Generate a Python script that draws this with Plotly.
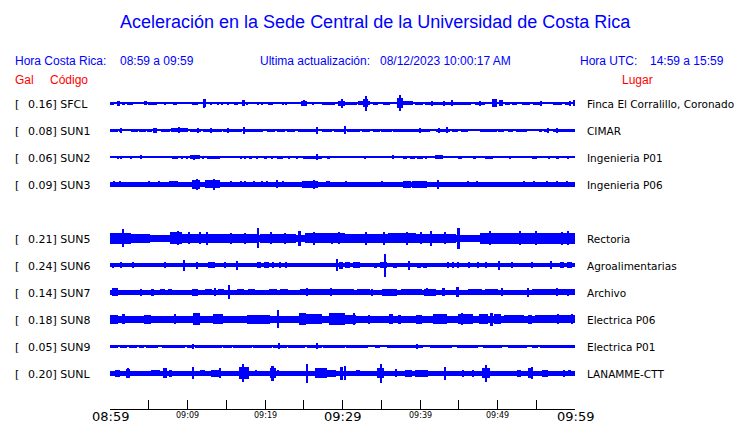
import plotly.graph_objects as go

# ---------------- data ----------------
CODES = ["SFCL", "SUN1", "SUN2", "SUN3", "SUN5", "SUN6", "SUN7", "SUN8", "SUN9", "SUNL"]
GAL = [0.16, 0.08, 0.06, 0.09, 0.21, 0.24, 0.14, 0.18, 0.05, 0.20]
PLACES = ["Finca El Corralillo, Coronado", "CIMAR", "Ingenieria P01", "Ingenieria P06",
          "Rectoria", "Agroalimentarias", "Archivo", "Electrica P06", "Electrica P01", "LANAMME-CTT"]
SLOTS = [0, 1, 2, 3, 5, 6, 7, 8, 9, 10]          # row 4 (SUN4) is empty
BASE_HALF = [0.6, 0.6, 0.5, 2.2, 3.8, 2.0, 2.5, 3.3, 1.0, 2.2]   # background trace half-amplitude

# bursts: (start minute, end minute, half amplitude)
SFCL_EV = [(0.0, 0.5, 1.7), (0.9, 1.3, 2.3), (1.5, 1.9, 1.7), (2.2, 3.0, 1.5), (4.4, 4.8, 2.0),
           (4.9, 6.1, 1.7), (7.0, 7.15, 1.2), (8.1, 8.6, 1.7), (10.6, 11.4, 1.7), (12.0, 12.4, 4.0),
           (12.1, 12.25, 4.5), (12.9, 13.2, 1.5), (13.9, 14.05, 1.3), (14.4, 14.55, 1.3),
           (15.2, 15.35, 1.3), (16.0, 16.5, 1.5), (17.0, 17.4, 3.0), (17.5, 17.8, 1.5),
           (19.0, 19.15, 1.2), (19.6, 19.75, 1.2), (20.4, 21.0, 1.5), (22.2, 22.35, 1.2),
           (22.7, 22.85, 1.2), (24.6, 25.4, 2.3), (25.0, 25.15, 3.0), (26.1, 26.25, 1.2),
           (27.4, 29.0, 1.5), (29.4, 30.3, 2.3), (29.9, 30.05, 4.5), (30.3, 31.9, 1.5),
           (32.0, 33.5, 2.0), (32.6, 33.3, 4.0), (33.0, 33.2, 7.5), (33.9, 34.6, 1.2),
           (35.2, 36.1, 1.5), (37.0, 37.8, 5.0), (37.35, 37.5, 8.0), (37.8, 39.1, 2.0),
           (39.4, 40.4, 1.5), (40.6, 44.1, 1.5), (41.5, 41.65, 2.5), (43.0, 43.15, 2.5),
           (44.1, 44.25, 3.0), (44.3, 46.6, 1.3), (47.1, 48.4, 1.5), (47.7, 47.85, 2.5),
           (49.3, 49.9, 4.0), (50.2, 50.7, 3.0), (51.0, 51.6, 1.2), (51.9, 52.5, 1.2),
           (53.2, 54.2, 1.5), (54.6, 55.5, 1.5), (55.6, 55.75, 2.5), (57.2, 58.3, 1.5),
           (58.7, 59.4, 1.5), (59.3, 59.45, 2.5), (59.7, 60.0, 3.0)]

SUN1_EV = [(0.0, 1.0, 1.8), (1.2, 1.6, 1.3), (1.3, 1.45, 2.5), (2.7, 3.6, 1.5), (3.8, 4.6, 1.5),
           (4.8, 5.4, 1.5), (5.5, 6.1, 2.5), (6.6, 7.8, 1.5), (7.9, 10.1, 2.0), (8.8, 8.95, 3.0),
           (10.3, 11.8, 1.8), (11.3, 11.45, 2.5), (12.0, 13.0, 1.8), (13.0, 13.15, 2.5),
           (13.2, 14.5, 1.8), (14.6, 17.0, 1.5), (15.2, 15.35, 2.5), (17.1, 19.0, 1.8),
           (17.2, 17.35, 3.5), (19.0, 19.8, 1.3), (20.3, 21.3, 1.3), (21.5, 22.6, 1.3),
           (22.9, 23.9, 1.3), (24.3, 25.2, 1.3), (25.2, 26.9, 1.8), (26.6, 26.75, 3.5),
           (27.4, 28.6, 1.3), (28.9, 30.2, 1.3), (30.3, 30.45, 4.0), (30.6, 32.3, 1.5),
           (32.5, 33.6, 1.3), (33.9, 34.8, 1.3), (35.0, 36.4, 1.3), (36.5, 41.3, 1.8),
           (39.9, 40.05, 2.5), (42.0, 43.9, 1.8), (42.4, 42.55, 2.5), (43.4, 43.55, 3.0),
           (44.1, 44.9, 1.3), (45.3, 46.2, 1.3), (47.7, 49.9, 1.8), (50.1, 50.9, 1.3),
           (51.4, 52.0, 1.3), (52.4, 53.8, 1.3), (55.3, 55.7, 1.3), (56.0, 56.4, 1.3),
           (56.5, 56.65, 2.5), (57.2, 59.7, 1.8), (57.6, 57.75, 2.5), (59.8, 60.0, 1.5)]

SUN2_EV = [(1.0, 1.15, 1.5), (1.4, 1.55, 1.5), (2.6, 2.75, 1.2), (3.9, 4.05, 2.0), (8.0, 8.8, 1.8),
           (9.2, 9.4, 1.2), (9.9, 10.05, 1.2), (10.3, 11.6, 2.0), (10.8, 10.95, 2.8),
           (11.9, 12.1, 1.3), (12.5, 14.2, 1.8), (16.8, 17.0, 1.5), (17.4, 17.6, 1.5),
           (17.9, 18.3, 1.5), (18.9, 19.05, 1.3), (19.9, 20.2, 1.3), (20.8, 21.0, 1.3),
           (21.5, 22.3, 1.5), (23.0, 23.15, 1.2), (24.0, 24.3, 1.3), (24.9, 27.4, 1.8),
           (26.6, 26.75, 3.0), (28.0, 28.4, 1.8), (32.9, 33.05, 1.2), (36.5, 36.65, 2.0),
           (37.8, 38.3, 1.5), (38.7, 39.3, 1.5), (39.6, 40.4, 1.5), (40.6, 40.9, 1.5),
           (41.9, 43.0, 2.0), (44.9, 45.4, 1.8), (46.8, 47.2, 1.2), (48.4, 49.4, 1.8),
           (51.6, 51.75, 1.2), (54.5, 55.1, 1.5), (56.6, 56.75, 1.2), (57.5, 57.9, 1.2),
           (59.0, 59.15, 1.2)]

SUN3_EV = [(0.5, 0.65, 3.0), (1.2, 1.35, 3.0), (4.0, 4.15, 2.8), (5.0, 5.15, 3.0), (6.2, 6.35, 3.0),
           (7.6, 8.8, 3.0), (10.6, 11.6, 4.5), (11.2, 11.35, 5.5), (12.3, 14.2, 4.0),
           (13.4, 13.55, 5.5), (15.5, 15.65, 3.0), (16.8, 16.95, 3.0), (17.4, 17.55, 3.0),
           (18.5, 18.65, 3.0), (19.6, 19.75, 3.0), (20.2, 20.35, 3.0), (21.5, 21.65, 4.0),
           (22.2, 22.35, 3.0), (24.8, 26.8, 3.5), (26.3, 26.45, 4.5), (27.9, 28.4, 3.0),
           (30.4, 30.55, 3.0), (31.7, 31.85, 2.8), (32.6, 34.0, 2.8), (35.0, 35.15, 3.0),
           (37.8, 38.8, 3.5), (39.0, 40.9, 3.5), (42.3, 42.45, 4.7), (44.3, 44.45, 2.8),
           (46.1, 46.25, 3.0), (47.3, 47.45, 3.0), (53.3, 53.45, 3.0), (54.6, 54.75, 3.0),
           (56.3, 56.45, 3.0), (57.6, 57.75, 3.0), (58.9, 59.05, 3.0)]

SUN5_EV = [(0.0, 2.7, 5.5), (1.6, 1.8, 9.0), (2.7, 5.2, 4.5), (7.8, 9.3, 6.0), (8.7, 8.85, 7.0),
           (9.3, 14.0, 4.5), (10.1, 10.25, 6.0), (11.6, 11.75, 6.0), (12.5, 12.65, 6.5),
           (14.0, 19.0, 4.2), (15.6, 15.75, 5.5), (17.3, 17.45, 5.5), (19.0, 19.2, 10.0),
           (19.4, 24.0, 4.5), (20.7, 20.85, 6.0), (22.5, 22.65, 5.5), (24.3, 24.7, 7.5),
           (25.2, 30.3, 5.0), (26.3, 26.45, 6.5), (28.6, 28.75, 5.5), (29.5, 29.65, 6.0),
           (30.3, 35.9, 4.5), (33.0, 33.15, 6.5), (35.3, 35.45, 6.5), (35.9, 39.5, 5.0),
           (38.3, 38.45, 6.5), (39.5, 44.7, 4.5), (40.1, 40.25, 6.0), (41.3, 41.45, 7.5),
           (43.1, 43.25, 6.0), (44.8, 45.1, 10.5), (47.7, 60.0, 5.5), (49.0, 49.15, 7.0),
           (52.8, 52.95, 7.0), (54.9, 55.05, 7.0), (58.3, 58.45, 6.5), (59.0, 59.15, 7.0)]

SUN6_EV = [(0.3, 0.45, 2.5), (1.4, 1.55, 3.0), (2.9, 3.05, 3.0), (7.0, 7.15, 3.0), (9.5, 9.7, 5.5),
           (11.2, 11.35, 3.3), (12.6, 13.6, 3.0), (14.8, 14.95, 3.0), (16.3, 16.5, 4.5),
           (19.0, 19.5, 3.0), (19.9, 20.5, 3.0), (21.0, 21.15, 3.0), (21.9, 22.05, 3.0),
           (22.7, 22.85, 3.0), (29.2, 29.4, 6.0), (29.6, 30.0, 3.5), (30.3, 31.0, 3.0),
           (31.4, 32.2, 3.0), (34.1, 34.5, 2.8), (34.9, 35.8, 3.0), (35.4, 35.55, 11.5),
           (36.5, 37.0, 2.8), (38.4, 38.7, 4.5), (39.6, 40.1, 2.8), (40.4, 40.9, 2.8),
           (43.6, 43.75, 3.0), (44.2, 44.35, 3.0), (44.9, 45.05, 3.0), (46.2, 46.35, 3.0),
           (47.4, 47.55, 3.0), (48.5, 48.65, 3.0), (50.1, 50.3, 4.5), (51.8, 51.95, 3.0),
           (54.4, 54.55, 3.0), (56.8, 57.0, 4.0), (58.0, 58.6, 3.0), (59.0, 59.6, 3.0)]

SUN7_EV = [(0.2, 1.0, 4.0), (3.9, 4.05, 3.5), (5.3, 5.7, 3.5), (6.5, 7.1, 3.0), (7.5, 8.0, 3.0),
           (10.6, 11.4, 3.5), (12.3, 13.2, 3.0), (13.5, 13.65, 4.0), (13.9, 14.7, 3.0),
           (15.3, 15.5, 7.0), (16.4, 17.3, 3.0), (17.8, 18.7, 3.0), (20.5, 21.5, 3.0),
           (21.9, 23.0, 3.0), (24.5, 30.0, 3.0), (25.4, 25.55, 4.0), (28.5, 28.65, 4.0),
           (30.0, 31.5, 3.0), (31.9, 33.5, 3.0), (33.8, 33.95, 3.5), (35.1, 37.0, 3.5),
           (37.6, 40.2, 3.0), (40.5, 42.0, 3.5), (40.9, 41.05, 4.0), (42.8, 43.2, 4.0),
           (44.6, 45.0, 5.0), (46.2, 48.0, 3.0), (48.4, 50.0, 3.0), (50.5, 50.65, 4.0),
           (53.9, 54.1, 4.5), (54.5, 60.0, 3.0), (57.6, 57.75, 4.0), (59.0, 59.15, 3.5)]

SUN8_EV = [(0.0, 1.0, 4.5), (1.5, 1.9, 5.0), (2.5, 4.0, 3.8), (4.4, 5.3, 4.5), (5.6, 8.0, 3.8),
           (8.3, 8.5, 5.0), (10.7, 11.6, 6.0), (13.3, 14.6, 5.0), (17.7, 20.6, 4.5),
           (21.5, 21.8, 9.0), (22.0, 23.8, 3.8), (24.4, 25.3, 6.0), (25.3, 27.4, 5.0),
           (28.2, 30.3, 6.0), (30.3, 31.8, 4.5), (31.4, 31.55, 6.0), (32.0, 35.6, 3.8),
           (33.4, 33.55, 4.5), (36.0, 36.5, 5.0), (37.2, 37.6, 4.5), (39.5, 40.2, 4.5),
           (41.7, 43.5, 5.0), (44.9, 46.8, 5.0), (45.3, 45.45, 6.0), (47.6, 48.8, 5.0),
           (49.0, 49.4, 6.5), (49.6, 50.5, 5.0), (50.8, 53.4, 4.0), (53.9, 54.4, 4.5),
           (54.8, 60.0, 4.0), (57.7, 57.85, 5.0), (59.5, 59.65, 5.0)]

SUN9_EV = [(0.0, 1.0, 1.7), (1.3, 2.2, 1.7), (2.5, 3.5, 1.7), (3.7, 4.4, 1.7), (4.6, 6.2, 1.7),
           (6.7, 9.7, 1.7), (9.9, 10.6, 1.7), (10.7, 10.85, 2.3), (11.0, 14.5, 1.7),
           (14.6, 15.7, 1.7), (15.9, 18.3, 1.7), (18.5, 20.9, 1.7), (21.0, 22.8, 1.7),
           (21.7, 21.85, 3.0), (23.0, 25.2, 1.7), (25.4, 27.4, 1.7), (26.7, 26.85, 3.0),
           (27.5, 30.3, 1.7), (30.4, 33.3, 1.7), (34.2, 34.8, 1.7), (35.7, 40.4, 1.7),
           (39.6, 39.75, 2.5), (41.3, 44.1, 1.7), (44.8, 47.5, 1.7), (48.1, 50.6, 1.7),
           (51.4, 53.8, 1.7), (54.5, 55.2, 1.7), (55.5, 60.0, 1.7)]

SUNL_EV = [(0.6, 1.3, 3.5), (2.0, 2.6, 4.5), (2.2, 2.35, 5.0), (5.3, 6.5, 3.0), (6.9, 7.3, 5.0),
           (7.6, 8.0, 3.5), (10.6, 10.8, 6.0), (11.6, 12.3, 3.0), (13.0, 14.1, 3.5),
           (14.1, 14.3, 5.0), (16.6, 17.9, 6.0), (17.0, 17.3, 9.0), (18.8, 18.95, 3.0),
           (20.7, 21.4, 5.0), (20.9, 21.1, 7.5), (21.6, 21.75, 3.0), (25.3, 25.5, 9.5),
           (26.5, 28.0, 5.0), (28.0, 29.1, 3.5), (29.7, 30.1, 6.5), (30.3, 30.5, 7.0),
           (31.7, 32.3, 3.0), (34.5, 35.4, 5.0), (34.9, 35.1, 9.5), (36.9, 37.05, 4.0),
           (38.0, 39.0, 3.5), (39.4, 41.0, 3.5), (43.1, 43.4, 6.5), (45.5, 45.65, 3.5),
           (46.8, 46.95, 3.5), (48.0, 49.0, 5.0), (48.4, 48.6, 8.5), (52.5, 53.0, 3.5),
           (53.9, 54.6, 5.0), (54.4, 54.55, 6.0), (55.7, 56.5, 3.5), (58.5, 58.65, 3.5),
           (59.1, 59.5, 3.0)]

EVENTS = [SFCL_EV, SUN1_EV, SUN2_EV, SUN3_EV, SUN5_EV, SUN6_EV, SUN7_EV, SUN8_EV, SUN9_EV, SUNL_EV]

TICK_MINUTES = list(range(0, 61, 5))
BIG_LABELS = {0: "08:59", 30: "09:29", 60: "09:59"}
SMALL_LABELS = {10: "09:09", 20: "09:19", 40: "09:39", 50: "09:49"}

# ---------------- layout geometry ----------------
W, H = 740, 423
L, R, T, B = 110, 575, 90, 409          # plot area in pixels
ROW0, ROW_STEP = 103.3, 27.0
BLUE, RED = "#0000ff", "#ff0000"


def px_x(px):
    return (px - L) / (R - L)


def px_y(py):
    return (B - py) / (B - T)


fig = go.Figure()

for i, code in enumerate(CODES):
    c = -(ROW0 + ROW_STEP * SLOTS[i])
    b = BASE_HALF[i]
    ev = EVENTS[i]
    xs = [30.0] + [(s + e) / 2 for s, e, a in ev]
    ws = [60.0] + [e - s for s, e, a in ev]
    bases = [c - b] + [c - a for s, e, a in ev]
    hs = [2 * b] + [2 * a for s, e, a in ev]
    fig.add_trace(go.Bar(x=xs, y=hs, base=bases, width=ws,
                         marker=dict(color=BLUE, line=dict(width=0)),
                         showlegend=False, hoverinfo="skip"))

ann = []
# title
ann.append(dict(text="Aceleración en la Sede Central de la Universidad de Costa Rica",
                x=px_x(375), y=px_y(22), xref="paper", yref="paper",
                xanchor="center", yanchor="middle", showarrow=False,
                font=dict(family="Liberation Sans", size=18, color=BLUE)))
hdr = [("Hora Costa Rica:", 13), ("08:59 a 09:59", 118),
       ("Ultima actualización:", 258), ("08/12/2023 10:00:17 AM", 378),
       ("Hora UTC:", 578), ("14:59 a 15:59", 648)]
for t, x0 in hdr:
    ann.append(dict(text=t, x=px_x(x0), y=px_y(61), xref="paper", yref="paper",
                    xanchor="left", yanchor="middle", showarrow=False,
                    font=dict(family="Liberation Sans", size=12, color=BLUE)))
for t, x0 in [("Gal", 13), ("Código", 48), ("Lugar", 620)]:
    ann.append(dict(text=t, x=px_x(x0), y=px_y(80), xref="paper", yref="paper",
                    xanchor="left", yanchor="middle", showarrow=False,
                    font=dict(family="Liberation Sans", size=12, color=RED)))

for i, code in enumerate(CODES):
    yc = ROW0 + ROW_STEP * SLOTS[i] + 1.0
    ann.append(dict(text="[", x=px_x(13), y=px_y(yc), xref="paper", yref="paper",
                    xanchor="left", yanchor="middle", showarrow=False,
                    font=dict(family="DejaVu Sans", size=11, color="black")))
    ann.append(dict(text=f"{GAL[i]:.2f}] {code}", x=px_x(26), y=px_y(yc),
                    xref="paper", yref="paper", xanchor="left", yanchor="middle",
                    showarrow=False, font=dict(family="DejaVu Sans", size=11, color="black")))
    ann.append(dict(text=PLACES[i], x=px_x(585), y=px_y(yc), xref="paper", yref="paper",
                    xanchor="left", yanchor="middle", showarrow=False,
                    font=dict(family="DejaVu Sans", size=10.5, color="black")))

for m, t in BIG_LABELS.items():
    ann.append(dict(text=t, x=m, y=px_y(416.5), xref="x", yref="paper",
                    xanchor="center", yanchor="middle", showarrow=False,
                    font=dict(family="DejaVu Sans", size=13, color="black")))
for m, t in SMALL_LABELS.items():
    ann.append(dict(text=t, x=m, y=px_y(415.0), xref="x", yref="paper",
                    xanchor="center", yanchor="middle", showarrow=False,
                    font=dict(family="DejaVu Sans", size=8, color="black")))

fig.update_layout(
    width=W, height=H,
    margin=dict(l=L, r=W - R, t=T, b=H - B, pad=0),
    paper_bgcolor="white", plot_bgcolor="white",
    barmode="overlay", bargap=0,
    annotations=ann,
    xaxis=dict(range=[0, 60], showgrid=False, zeroline=False, showline=True,
               linecolor="black", linewidth=1, ticks="inside", ticklen=9,
               tickcolor="black", tickwidth=1, tickvals=TICK_MINUTES,
               showticklabels=False, fixedrange=True),
    yaxis=dict(range=[-B, -T], showgrid=False, zeroline=False, showline=False,
               showticklabels=False, ticks="", fixedrange=True),
)

fig.write_html("out.html", config={"displayModeBar": False},
               post_script="document.body.style.margin='0px';document.body.style.overflow='hidden';")
